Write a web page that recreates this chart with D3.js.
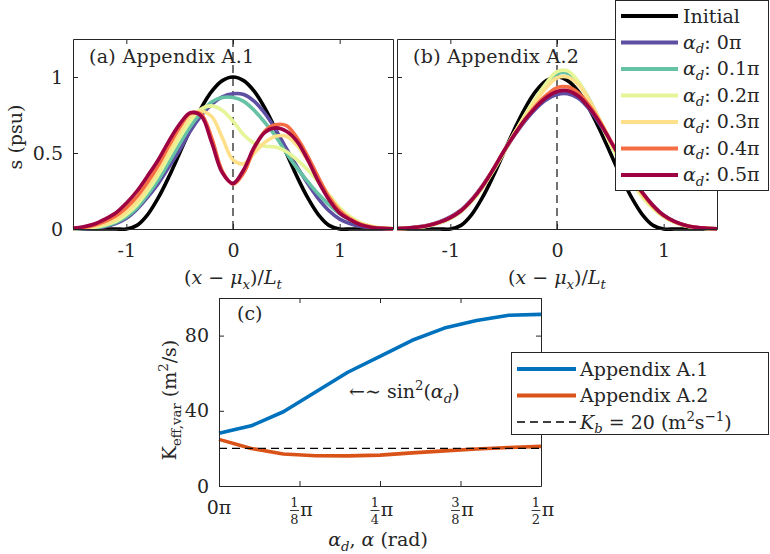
<!DOCTYPE html>
<html lang="en">
<head>
<meta charset="UTF-8">
<title>Salinity profiles and K_eff,var</title>
<script src="https://cdn.jsdelivr.net/npm/d3@7"></script>
<style>
  body { margin: 0; background: #fff; }
  svg { font-family: "DejaVu Serif", "Liberation Serif", serif; }
  .axis path, .axis line { stroke: #262626; stroke-width: 1; }
  .axis text { font-family: "DejaVu Serif", serif; font-size: 19px; fill: #262626; }
</style>
</head>
<body>
<svg id="chart" width="770" height="554"></svg>
<script>
// sample positions, (x - mu_x)/L_t
var xs = [-1.5,-1.4,-1.3,-1.2,-1.1,-1.0,-0.9,-0.8,-0.7,-0.6,-0.5,-0.4,-0.3,-0.2,-0.1,0,
          0.1,0.2,0.3,0.4,0.5,0.6,0.7,0.8,0.9,1.0,1.1,1.2,1.3,1.4,1.5];

var initial = [0,0,0,0,0,0,0.024,0.095,0.206,0.345,0.5,0.655,0.794,0.905,0.976,1,
               0.976,0.905,0.794,0.655,0.5,0.345,0.206,0.095,0.024,0,0,0,0,0,0];

// (a) Appendix A.1
var a1_00 = [0,0.002,0.006,0.015,0.035,0.07,0.13,0.21,0.30,0.41,0.52,0.645,0.745,0.82,0.87,0.89,
             0.885,0.84,0.76,0.654,0.53,0.41,0.30,0.20,0.12,0.065,0.035,0.017,0.007,0.003,0.001];
var a1_01 = [0.001,0.003,0.008,0.02,0.042,0.08,0.14,0.225,0.324,0.44,0.56,0.675,0.765,0.835,0.865,0.865,
             0.84,0.78,0.70,0.61,0.50,0.40,0.313,0.23,0.16,0.10,0.06,0.03,0.013,0.005,0.002];
var a1_02 = [0.002,0.005,0.012,0.026,0.05,0.095,0.16,0.25,0.357,0.48,0.60,0.71,0.79,0.81,0.78,0.71,
             0.62,0.565,0.545,0.54,0.51,0.455,0.39,0.31,0.225,0.14,0.08,0.04,0.018,0.007,0.003];
var a1_03 = [0.003,0.008,0.018,0.035,0.065,0.115,0.185,0.28,0.39,0.52,0.64,0.74,0.775,0.74,0.60,0.455,
             0.43,0.50,0.57,0.61,0.61,0.55,0.45,0.33,0.22,0.13,0.07,0.035,0.015,0.006,0.002];
var a1_04 = [0.004,0.01,0.025,0.05,0.085,0.14,0.215,0.31,0.42,0.55,0.67,0.76,0.755,0.60,0.38,0.295,
             0.37,0.53,0.645,0.685,0.68,0.60,0.48,0.34,0.21,0.12,0.065,0.03,0.013,0.005,0.002];
var a1_05 = [0.005,0.015,0.033,0.065,0.105,0.17,0.25,0.35,0.456,0.58,0.69,0.765,0.745,0.57,0.37,0.30,
             0.39,0.54,0.636,0.665,0.643,0.577,0.456,0.313,0.192,0.104,0.06,0.026,0.01,0.004,0.002];

// (b) Appendix A.2
var a2_00 = [0.003,0.007,0.014,0.027,0.048,0.08,0.125,0.195,0.285,0.39,0.505,0.615,0.71,0.79,0.85,0.885,
             0.89,0.86,0.79,0.69,0.575,0.46,0.345,0.24,0.155,0.09,0.05,0.025,0.011,0.005,0.002];
var a2_01 = [0.002,0.005,0.011,0.022,0.04,0.07,0.115,0.185,0.275,0.385,0.51,0.63,0.745,0.855,0.95,1.02,
             1.025,0.965,0.855,0.715,0.57,0.44,0.32,0.22,0.14,0.082,0.045,0.022,0.01,0.004,0.002];
var a2_02 = [0.002,0.005,0.011,0.022,0.04,0.07,0.115,0.18,0.27,0.38,0.50,0.625,0.75,0.86,0.96,1.035,
             1.04,0.97,0.85,0.71,0.56,0.43,0.31,0.21,0.135,0.08,0.045,0.022,0.01,0.004,0.002];
var a2_03 = [0.002,0.005,0.012,0.024,0.043,0.073,0.12,0.19,0.28,0.39,0.51,0.63,0.74,0.84,0.93,0.995,
             1.0,0.95,0.85,0.72,0.58,0.45,0.33,0.225,0.145,0.085,0.047,0.023,0.01,0.004,0.002];
var a2_04 = [0.003,0.006,0.013,0.025,0.045,0.075,0.12,0.19,0.28,0.39,0.51,0.62,0.72,0.81,0.88,0.93,
             0.935,0.895,0.815,0.71,0.585,0.46,0.34,0.235,0.15,0.088,0.048,0.024,0.011,0.004,0.002];
var a2_05 = [0.003,0.006,0.013,0.025,0.045,0.075,0.12,0.19,0.28,0.39,0.51,0.62,0.72,0.80,0.865,0.905,
             0.91,0.875,0.80,0.70,0.58,0.46,0.345,0.24,0.155,0.09,0.05,0.025,0.011,0.005,0.002];

var alphaLabels = ["0", "0.1", "0.2", "0.3", "0.4", "0.5"];
var profileColors = ["#000000", "#5e4fa2", "#66c2a5", "#e6f598", "#fee08b", "#f46d43", "#9e0142"];

// (c) K_eff,var against alpha (in units of pi)
var alpha = [0, 0.05, 0.1, 0.15, 0.2, 0.25, 0.3, 0.35, 0.4, 0.45, 0.5];
var keffA1 = [28, 32, 39.5, 50, 60.5, 69, 77.5, 84, 88, 90.8, 91.3];
var keffA2 = [24.8, 20, 17, 16.1, 16, 16.4, 17.6, 18.7, 19.7, 20.5, 21.1];
var kb = 20;
var cTicks = [0, 0.125, 0.25, 0.375, 0.5];
var cTickNum = ["0", "1", "1", "3", "1"];
var cTickDen = [null, "8", "4", "8", "2"];

var ink = "#262626";
var FS = 19;
var svg = d3.select("#chart");

// text with italic / sub / sup pieces
function rich(text, parts, size) {
  var off = 0;
  parts.forEach(function(p) {
    var f = p[1] || "";
    var shift = f.indexOf("_") >= 0 ? 0.25 * size : (f.indexOf("^") >= 0 ? -0.4 * size : 0);
    var ts = text.append("tspan").text(p[0]).attr("dy", shift - off);
    if (f.indexOf("i") >= 0) ts.style("font-style", "italic");
    if (shift !== 0) ts.style("font-size", (0.7 * size) + "px");
    off = shift;
  });
  return text;
}

function label(x, y, parts, size, anchor, rotate) {
  var t = svg.append("text")
    .attr("x", x).attr("y", y)
    .attr("fill", ink)
    .style("font-size", size + "px")
    .attr("text-anchor", anchor || "start");
  if (rotate) t.attr("transform", "rotate(-90," + x + "," + y + ")");
  return rich(t, parts, size);
}

function frame(x, y, xt, yt, xfmt, yfmt) {
  var y0 = y.range()[0], y1 = y.range()[1];
  var x0 = x.range()[0], x1 = x.range()[1];
  svg.append("g").attr("class", "axis").attr("transform", "translate(0," + y0 + ")")
    .call(d3.axisBottom(x).tickValues(xt).tickSize(-5).tickSizeOuter(0).tickPadding(15).tickFormat(xfmt));
  svg.append("g").attr("class", "axis").attr("transform", "translate(0," + y1 + ")")
    .call(d3.axisTop(x).tickValues(xt).tickSize(-5).tickSizeOuter(0).tickFormat(""));
  svg.append("g").attr("class", "axis").attr("transform", "translate(" + x0 + ",0)")
    .call(d3.axisLeft(y).tickValues(yt).tickSize(-5).tickSizeOuter(0).tickPadding(10).tickFormat(yfmt));
  svg.append("g").attr("class", "axis").attr("transform", "translate(" + x1 + ",0)")
    .call(d3.axisRight(y).tickValues(yt).tickSize(-5).tickSizeOuter(0).tickFormat(""));
}

function profilePanel(x0, x1, series, title) {
  var x = d3.scaleLinear().domain([-1.5, 1.5]).range([x0, x1]);
  var y = d3.scaleLinear().domain([0, 1.25]).range([229, 39]);
  var line = d3.line()
    .x(function(d, i) { return x(xs[i]); })
    .y(function(d) { return y(d); })
    .curve(d3.curveCatmullRom.alpha(0.5));

  svg.append("line")
    .attr("x1", x(0)).attr("x2", x(0)).attr("y1", y(0)).attr("y2", y(1.25))
    .attr("stroke", ink).attr("stroke-width", 1.3).attr("stroke-dasharray", "8,5");

  series.forEach(function(s, i) {
    svg.append("path").datum(s)
      .attr("d", line)
      .attr("fill", "none")
      .attr("stroke", profileColors[i])
      .attr("stroke-width", 3.6)
      .attr("stroke-linejoin", "round");
  });

  frame(x, y, [-1, 0, 1], [0, 0.5, 1], function(d) { return String(d); },
        title[1] === "a" ? function(d) { return String(d); } : "");

  label(x0 + 16, 63, [[title]], FS).style("letter-spacing", "0.3px");
  label(x(0), 284, [["("], ["x", "i"], [" − "], ["μ", "i"], ["x", "i_"], [")/"], ["L", "i"], ["t", "i_"]], FS, "middle");
}

profilePanel(73, 393, [initial, a1_00, a1_01, a1_02, a1_03, a1_04, a1_05], "(a) Appendix A.1");
profilePanel(397, 717, [initial, a2_00, a2_01, a2_02, a2_03, a2_04, a2_05], "(b) Appendix A.2");

label(22, 137, [["s (psu)"]], FS, "middle", true);

// legend for (a) and (b)
svg.append("rect").attr("x", 615.5).attr("y", 0.5).attr("width", 153).attr("height", 190)
  .attr("fill", "#fff").attr("stroke", ink);
profileColors.forEach(function(c, i) {
  var cy = 16 + i * 26.5;
  svg.append("line").attr("x1", 621).attr("x2", 678).attr("y1", cy).attr("y2", cy)
    .attr("stroke", c).attr("stroke-width", 4);
  if (i === 0) label(683, cy + 7, [["Initial"]], FS);
  else label(683, cy + 6, [["α", "i"], ["d", "i_"], [": " + alphaLabels[i - 1] + "π"]], FS);
});

// (c)
var xc = d3.scaleLinear().domain([0, 0.5]).range([219, 541]);
var yc = d3.scaleLinear().domain([0, 100]).range([486, 298]);
var lineC = d3.line().x(function(d, i) { return xc(alpha[i]); }).y(function(d) { return yc(d); });

svg.append("path").datum(keffA1).attr("d", lineC).attr("fill", "none")
  .attr("stroke", "#0072bd").attr("stroke-width", 3.6).attr("stroke-linejoin", "round");
svg.append("path").datum(keffA2).attr("d", lineC).attr("fill", "none")
  .attr("stroke", "#d95319").attr("stroke-width", 3.6).attr("stroke-linejoin", "round");
svg.append("line").attr("x1", xc(0)).attr("x2", xc(0.5)).attr("y1", yc(kb)).attr("y2", yc(kb))
  .attr("stroke", "#000").attr("stroke-width", 1.3).attr("stroke-dasharray", "8,5");

frame(xc, yc, cTicks, [0, 40, 80], "", function(d) { return String(d); });

cTicks.forEach(function(t, i) {
  var px = xc(t);
  if (!cTickDen[i]) {
    label(px, 514, [[cTickNum[i] + "π"]], FS, "middle");
    return;
  }
  svg.append("text").attr("x", px - 5).attr("y", 507).attr("text-anchor", "middle")
    .attr("fill", ink).style("font-size", "13px").text(cTickNum[i]);
  svg.append("line").attr("x1", px - 9.5).attr("x2", px - 0.5).attr("y1", 510.5).attr("y2", 510.5)
    .attr("stroke", ink).attr("stroke-width", 0.9);
  svg.append("text").attr("x", px - 5).attr("y", 524).attr("text-anchor", "middle")
    .attr("fill", ink).style("font-size", "13px").text(cTickDen[i]);
  label(px + 7, 516, [["π"]], FS, "middle");
});

label(378, 546, [["α", "i"], ["d", "i_"], [", "], ["α", "i"], [" (rad)"]], FS, "middle");
label(176, 400, [["K"], ["eff,var", "_"], ["  (m"], ["2", "^"], ["/s)"]], FS, "middle", true);
label(237, 320, [["(c)"]], FS);
label(349, 398, [["←∼ sin"], ["2", "^"], ["("], ["α", "i"], ["d", "i_"], [")"]], FS);

// legend for (c)
svg.append("rect").attr("x", 511.5).attr("y", 352.5).attr("width", 257).attr("height", 82)
  .attr("fill", "#fff").attr("stroke", ink);
var cLegend = [
  { color: "#0072bd", dash: null, parts: [["Appendix A.1"]] },
  { color: "#d95319", dash: null, parts: [["Appendix A.2"]] },
  { color: "#000", dash: "8,5", parts: [["K", "i"], ["b", "i_"], [" = 20 (m"], ["2", "^"], ["s"], ["−1", "^"], [")"]] }
];
cLegend.forEach(function(e, i) {
  var cy = 369 + i * 26.5;
  svg.append("line").attr("x1", 517).attr("x2", 576).attr("y1", cy).attr("y2", cy)
    .attr("stroke", e.color).attr("stroke-width", e.dash ? 1.3 : 4)
    .attr("stroke-dasharray", e.dash);
  label(580, cy + 6.5, e.parts, FS);
});
</script>
</body>
</html>
